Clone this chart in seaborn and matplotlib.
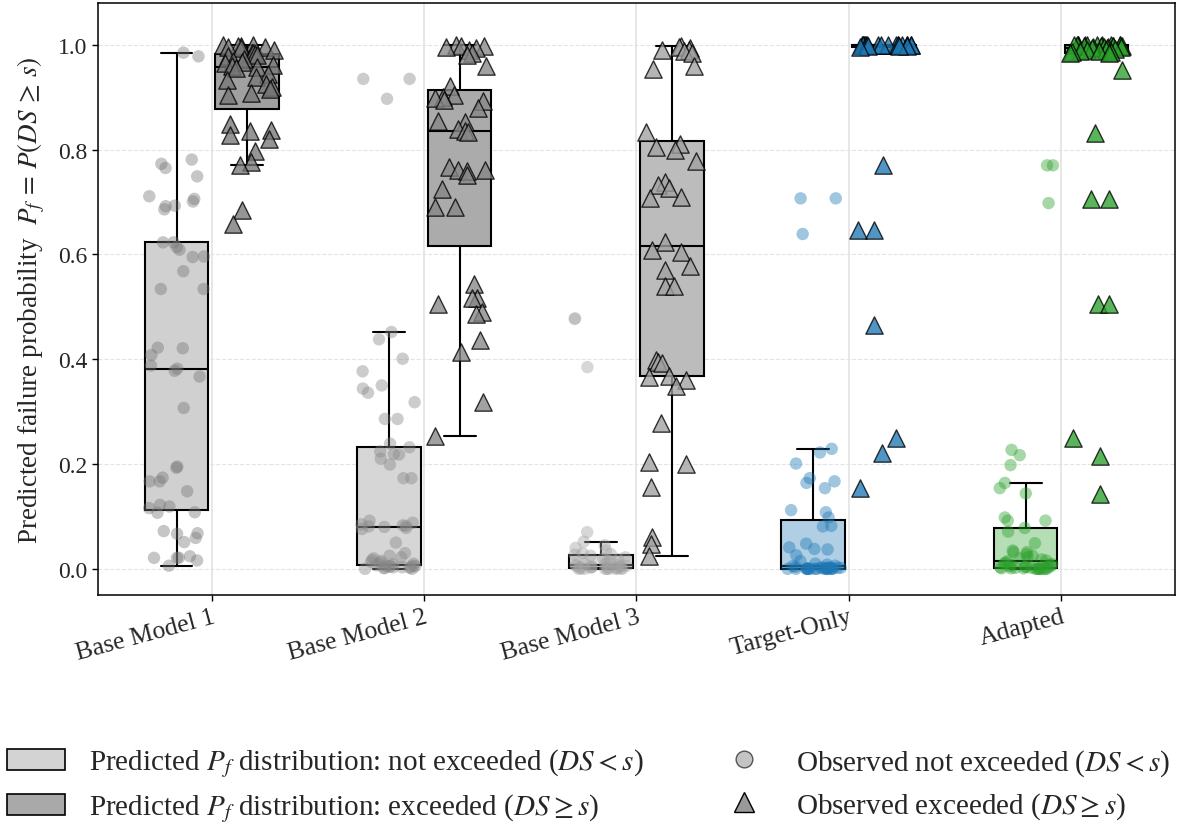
import numpy as np
import pandas as pd
import matplotlib
matplotlib.use("Agg")
import matplotlib.pyplot as plt
from matplotlib.patches import Patch
from matplotlib.lines import Line2D
import seaborn as sns

# ---------------- data ----------------
models = ["Base Model 1", "Base Model 2", "Base Model 3", "Target-Only", "Adapted"]

m1_not = [0.985, 0.978, 0.781, 0.773, 0.765, 0.749, 0.711, 0.706, 0.701, 0.693,
          0.692, 0.686, 0.623, 0.623, 0.614, 0.609, 0.596, 0.595, 0.568, 0.534,
          0.534, 0.422, 0.421, 0.408, 0.388, 0.382, 0.378, 0.367, 0.307, 0.195,
          0.193, 0.174, 0.167, 0.167, 0.148, 0.122, 0.119, 0.116, 0.108, 0.107,
          0.072, 0.068, 0.067, 0.059, 0.051, 0.024, 0.021, 0.021, 0.021, 0.016, 0.006]
m1_exc = [1.0, 1.0, 0.998, 0.997, 0.995, 0.995, 0.993, 0.99, 0.985, 0.984,
          0.982, 0.98, 0.978, 0.972, 0.97, 0.968, 0.965, 0.962, 0.96, 0.958,
          0.955, 0.945, 0.938, 0.932, 0.925, 0.92, 0.915, 0.908, 0.905,
          0.849, 0.837, 0.835, 0.827, 0.82, 0.798, 0.777, 0.77, 0.684, 0.658]

m2_not = [0.935, 0.935, 0.897, 0.452, 0.438, 0.401, 0.377, 0.35, 0.344, 0.336,
          0.318, 0.286, 0.286, 0.239, 0.232, 0.224, 0.219, 0.218, 0.21, 0.199,
          0.173, 0.173, 0.092, 0.088, 0.085, 0.083, 0.082, 0.081, 0.08, 0.078,
          0.076, 0.05, 0.03, 0.025, 0.022, 0.02, 0.017, 0.015, 0.013, 0.012,
          0.01, 0.009, 0.008, 0.007, 0.006, 0.006, 0.005, 0.005, 0.004, 0.004,
          0.003, 0.003, 0.002, 0.002, 0.001, 0.0, 0.0]
m2_exc = [1.0, 0.998, 0.997, 0.995, 0.993, 0.99, 0.985, 0.98, 0.959, 0.922,
          0.905, 0.9, 0.898, 0.895, 0.893, 0.88, 0.854, 0.853, 0.84, 0.836,
          0.833, 0.766, 0.762, 0.762, 0.76, 0.752, 0.725, 0.69, 0.69,
          0.543, 0.517, 0.517, 0.506, 0.49, 0.487, 0.437, 0.413, 0.319, 0.253]

m3_not = [0.478, 0.477, 0.385, 0.07, 0.052, 0.045, 0.04, 0.035, 0.03, 0.028,
          0.027, 0.025, 0.022, 0.02, 0.018, 0.015, 0.012, 0.01, 0.009, 0.008,
          0.007, 0.006, 0.005, 0.005, 0.004, 0.004, 0.003, 0.003, 0.002, 0.002,
          0.001, 0.001, 0.001, 0.0, 0.0, 0.0, 0.0, 0.0, 0.0, 0.0]
m3_exc = [0.997, 0.995, 0.993, 0.99, 0.99, 0.988, 0.985, 0.96, 0.954, 0.834,
          0.81, 0.805, 0.8, 0.779, 0.738, 0.732, 0.727, 0.71, 0.708, 0.624,
          0.608, 0.605, 0.577, 0.57, 0.539, 0.539, 0.398, 0.395, 0.392, 0.368,
          0.367, 0.36, 0.348, 0.279, 0.203, 0.2, 0.157, 0.06, 0.047, 0.025]

t_not = [0.707, 0.707, 0.639, 0.229, 0.222, 0.201, 0.173, 0.167, 0.164, 0.154,
         0.112, 0.108, 0.098, 0.082, 0.081, 0.048, 0.041, 0.038, 0.037, 0.026,
         0.015, 0.01, 0.008, 0.006, 0.005, 0.004, 0.003, 0.003, 0.002, 0.002,
         0.002, 0.001, 0.001, 0.001, 0.001, 0.0, 0.0, 0.0, 0.0, 0.0,
         0.0, 0.0, 0.0, 0.0, 0.0, 0.0, 0.0, 0.0, 0.0, 0.0]
t_exc = [1.0, 1.0, 1.0, 1.0, 1.0, 1.0, 1.0, 1.0, 1.0, 1.0, 1.0, 1.0, 1.0, 1.0,
         0.999, 0.999, 0.999, 0.999, 0.998, 0.998, 0.997, 0.996,
         0.771, 0.646, 0.646, 0.466, 0.25, 0.221, 0.154]

a_not = [0.77, 0.77, 0.698, 0.227, 0.217, 0.198, 0.164, 0.154, 0.144, 0.098,
         0.092, 0.092, 0.078, 0.071, 0.049, 0.035, 0.032, 0.032, 0.028, 0.025,
         0.022, 0.02, 0.018, 0.016, 0.015, 0.012, 0.01, 0.009, 0.008, 0.007,
         0.006, 0.005, 0.004, 0.004, 0.003, 0.003, 0.002, 0.002, 0.001, 0.001,
         0.001, 0.0, 0.0, 0.0, 0.0, 0.0, 0.0, 0.0, 0.0]
a_exc = [1.0, 1.0, 1.0, 1.0, 1.0, 1.0, 1.0, 1.0, 0.999, 0.999, 0.999,
         0.998, 0.998, 0.998, 0.997, 0.997, 0.996, 0.996, 0.995, 0.995,
         0.994, 0.993, 0.992, 0.991, 0.99, 0.989, 0.988, 0.987, 0.986, 0.985, 0.984,
         0.951, 0.832, 0.706, 0.706, 0.505, 0.505, 0.249, 0.215, 0.142]

not_vals = [m1_not, m2_not, m3_not, t_not, a_not]
exc_vals = [m1_exc, m2_exc, m3_exc, t_exc, a_exc]

# styles
box_not = ["#d0d0d0", "#d6d6d6", "#dcdcdc", "#b0cfe5", "#b5deb5"]
box_exc = ["#a0a0a0", "#ababab", "#bcbcbc", "#6aa5cf", "#6bbc6b"]
pt_col = ["#777777", "#878787", "#a1a1a1", "#1f77b4", "#2ca02c"]

# ---------------- figure ----------------
sns.set_style("white")
plt.rcParams["font.family"] = ["Liberation Serif", "DejaVu Serif"]
plt.rcParams["mathtext.fontset"] = "stix"

fig = plt.figure(figsize=(11.83, 8.29), dpi=100)
ax = fig.add_axes([0.0828, 0.281, 0.9104, 0.7143])

rows = []
for m, nv, ev in zip(models, not_vals, exc_vals):
    rows += [(m, "not", v) for v in nv]
    rows += [(m, "exc", v) for v in ev]
df = pd.DataFrame(rows, columns=["model", "outcome", "pf"])

for i, m in enumerate(models):
    sub = df[df["model"] == m]
    sns.boxplot(data=sub, x="model", y="pf", hue="outcome", order=models,
                hue_order=["not", "exc"],
                palette={"not": box_not[i], "exc": box_exc[i]},
                width=0.667, gap=0.1, showfliers=False, saturation=1,
                linecolor="black", linewidth=1.5, legend=False, ax=ax)

rng = np.random.default_rng(7)
for i, m in enumerate(models):
    nv = np.array(not_vals[i])
    ev = np.array(exc_vals[i])
    xn = i - 0.1667 + rng.uniform(-0.13, 0.13, len(nv))
    xe = i + 0.1667 + rng.uniform(-0.13, 0.13, len(ev))
    sns.scatterplot(x=xn, y=nv, marker="o", s=80, color=pt_col[i], alpha=0.42,
                    edgecolor="none", legend=False, ax=ax, zorder=3)
    sns.scatterplot(x=xe, y=ev, marker="^", s=155, color=pt_col[i], alpha=0.78,
                    edgecolor="black", linewidth=1.0, legend=False, ax=ax, zorder=4)

ax.set_xlim(-0.537, 4.537)
ax.set_ylim(-0.05, 1.08)
ax.set_yticks([0.0, 0.2, 0.4, 0.6, 0.8, 1.0])
ax.set_yticklabels(["0.0", "0.2", "0.4", "0.6", "0.8", "1.0"], fontsize=17)
ax.set_xticks(range(len(models)))
ax.set_xticklabels(models, fontsize=18.5, rotation=15, ha="right",
                   rotation_mode="anchor")
ax.set_xlabel("")
ax.set_ylabel(r"Predicted failure probability  $P_f\,=\,P(DS\,\geq\,s)$",
              fontsize=19.5, labelpad=8)
ax.tick_params(axis="both", direction="out", length=4, width=1, color="black",
               bottom=True, left=True)
ax.yaxis.grid(True, linestyle="--", color="#e3e3e3", linewidth=0.8)
ax.xaxis.grid(True, linestyle="-", color="#e3e3e3", linewidth=1.2)
ax.set_axisbelow(True)
for s in ax.spines.values():
    s.set_color("black")
    s.set_linewidth(1.1)

handles = [
    Patch(facecolor="#d3d3d3", edgecolor="black", linewidth=1.2,
          label=r"Predicted $P_f$ distribution: not exceeded ($DS < s$)"),
    Patch(facecolor="#a9a9a9", edgecolor="black", linewidth=1.2,
          label=r"Predicted $P_f$ distribution: exceeded ($DS \geq s$)"),
    Line2D([], [], linestyle="none", marker="o", markersize=12,
           markerfacecolor="#c4c4c4", markeredgecolor="#555555",
           label=r"Observed not exceeded ($DS < s$)"),
    Line2D([], [], linestyle="none", marker="^", markersize=14,
           markerfacecolor="#999999", markeredgecolor="black",
           label=r"Observed exceeded ($DS \geq s$)"),
]
fig.legend(handles=handles, loc="upper left", bbox_to_anchor=(0.006, 0.098),
           ncol=2, frameon=False, fontsize=21, handlelength=2.0,
           handleheight=0.7, handletextpad=0.8, columnspacing=2.45,
           labelspacing=0.42, borderpad=0.0, borderaxespad=0.0)

fig.savefig("out.png", dpi=100)
